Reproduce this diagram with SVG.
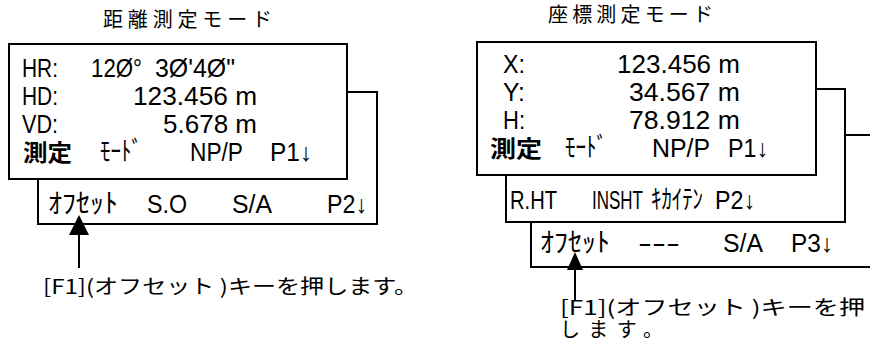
<svg xmlns="http://www.w3.org/2000/svg" width="870" height="344" viewBox="0 0 870 344">
<style>
.box{fill:#fff;stroke:#000;stroke-width:2}
.lcd{font-family:"Liberation Sans","Noto Sans CJK JP",sans-serif;font-size:25px;fill:#000}
.kana{font-family:"Noto Sans CJK JP","Liberation Sans",sans-serif;font-size:27px;fill:#000}
.kanji{font-family:"Noto Sans CJK JP",sans-serif;font-size:23px;font-weight:bold;fill:#000}
.cap{font-family:"Noto Sans CJK JP",sans-serif;font-size:20px;fill:#000}
.conn{stroke:#000;stroke-width:2;fill:none}
</style>
<rect width="870" height="344" fill="#fff"/>

<g id="title-left"><text class="cap" x="103" y="27" textLength="169" lengthAdjust="spacing">距離測定モード</text></g>
<g id="title-right"><text class="cap" x="548" y="22" textLength="165" lengthAdjust="spacing">座標測定モード</text></g>

<g id="screen-left-p2">
<rect class="box" x="38" y="92" width="339" height="132"/>
<text class="kana" x="48" y="213" textLength="70" lengthAdjust="spacingAndGlyphs">ｵﾌｾｯﾄ</text>
<text class="lcd" x="147" y="213" textLength="40" lengthAdjust="spacingAndGlyphs">S.O</text>
<text class="lcd" x="232" y="213" textLength="40" lengthAdjust="spacingAndGlyphs">S/A</text>
<text class="lcd" x="327" y="213" textLength="40" lengthAdjust="spacingAndGlyphs">P2↓</text>
</g>

<g id="screen-left-p1">
<rect class="box" x="9" y="44" width="338" height="135"/>
<text class="lcd" x="22" y="77" textLength="36" lengthAdjust="spacingAndGlyphs">HR:</text>
<text class="lcd" x="91" y="77" textLength="51" lengthAdjust="spacingAndGlyphs">12Ø°</text>
<text class="lcd" x="155" y="77" textLength="80" lengthAdjust="spacingAndGlyphs">3Ø'4Ø"</text>
<text class="lcd" x="22" y="105" textLength="36" lengthAdjust="spacingAndGlyphs">HD:</text>
<text class="lcd" x="133" y="105" textLength="124" lengthAdjust="spacingAndGlyphs">123.456 m</text>
<text class="lcd" x="22" y="133" textLength="36" lengthAdjust="spacingAndGlyphs">VD:</text>
<text class="lcd" x="163" y="133" textLength="94" lengthAdjust="spacingAndGlyphs">5.678 m</text>
<text class="kanji" x="23" y="161" textLength="49" lengthAdjust="spacingAndGlyphs">測定</text>
<text class="kana" x="100" y="161" textLength="42" lengthAdjust="spacingAndGlyphs">ﾓｰﾄﾞ</text>
<text class="lcd" x="190" y="161" textLength="53" lengthAdjust="spacingAndGlyphs">NP/P</text>
<text class="lcd" x="270" y="161" textLength="42" lengthAdjust="spacingAndGlyphs">P1↓</text>
</g>

<g id="screen-right-p3">
<rect class="box" x="531" y="135" width="360" height="132"/>
<text class="kana" x="540" y="252" textLength="70" lengthAdjust="spacingAndGlyphs">ｵﾌｾｯﾄ</text>
<text class="lcd" x="638" y="252" textLength="42" lengthAdjust="spacingAndGlyphs">---</text>
<text class="lcd" x="723" y="252" textLength="40" lengthAdjust="spacingAndGlyphs">S/A</text>
<text class="lcd" x="791" y="252" textLength="42" lengthAdjust="spacingAndGlyphs">P3↓</text>
</g>

<g id="screen-right-p2">
<rect class="box" x="506" y="89" width="339" height="133"/>
<text class="lcd" x="510" y="209" textLength="47" lengthAdjust="spacingAndGlyphs">R.HT</text>
<text class="lcd" x="592" y="209" textLength="51" lengthAdjust="spacingAndGlyphs">INSHT</text>
<text class="kana" x="651" y="209" textLength="52" lengthAdjust="spacingAndGlyphs">ｷｶｲﾃﾝ</text>
<text class="lcd" x="715" y="209" textLength="40" lengthAdjust="spacingAndGlyphs">P2↓</text>
</g>

<g id="screen-right-p1">
<rect class="box" x="477" y="42" width="339" height="133"/>
<text class="lcd" x="503" y="73" textLength="22" lengthAdjust="spacingAndGlyphs">X:</text>
<text class="lcd" x="617" y="73" textLength="123" lengthAdjust="spacingAndGlyphs">123.456 m</text>
<text class="lcd" x="503" y="101" textLength="22" lengthAdjust="spacingAndGlyphs">Y:</text>
<text class="lcd" x="629" y="101" textLength="111" lengthAdjust="spacingAndGlyphs">34.567 m</text>
<text class="lcd" x="503" y="129" textLength="22" lengthAdjust="spacingAndGlyphs">H:</text>
<text class="lcd" x="629" y="129" textLength="111" lengthAdjust="spacingAndGlyphs">78.912 m</text>
<text class="kanji" x="490" y="157" textLength="52" lengthAdjust="spacingAndGlyphs">測定</text>
<text class="kana" x="565" y="157" textLength="42" lengthAdjust="spacingAndGlyphs">ﾓｰﾄﾞ</text>
<text class="lcd" x="652" y="157" textLength="58" lengthAdjust="spacingAndGlyphs">NP/P</text>
<text class="lcd" x="728" y="157" textLength="40" lengthAdjust="spacingAndGlyphs">P1↓</text>
</g>

<g id="connectors">
<line class="conn" x1="79" y1="233" x2="79" y2="268"/>
<polygon points="79,215 69,235 89,235" fill="#000"/>
<line class="conn" x1="575" y1="268" x2="575" y2="300"/>
<polygon points="575,252 567,270 583,270" fill="#000"/>
</g>

<g id="caption-left"><text class="cap" x="43" y="294" textLength="375" lengthAdjust="spacingAndGlyphs">[F1](オフセット )キーを押します。</text></g>
<g id="caption-right">
<text class="cap" x="560" y="315" textLength="305" lengthAdjust="spacingAndGlyphs">[F1](オフセット )キーを押</text>
<text class="cap" x="560" y="337" textLength="103" lengthAdjust="spacing">します。</text>
</g>
</svg>
